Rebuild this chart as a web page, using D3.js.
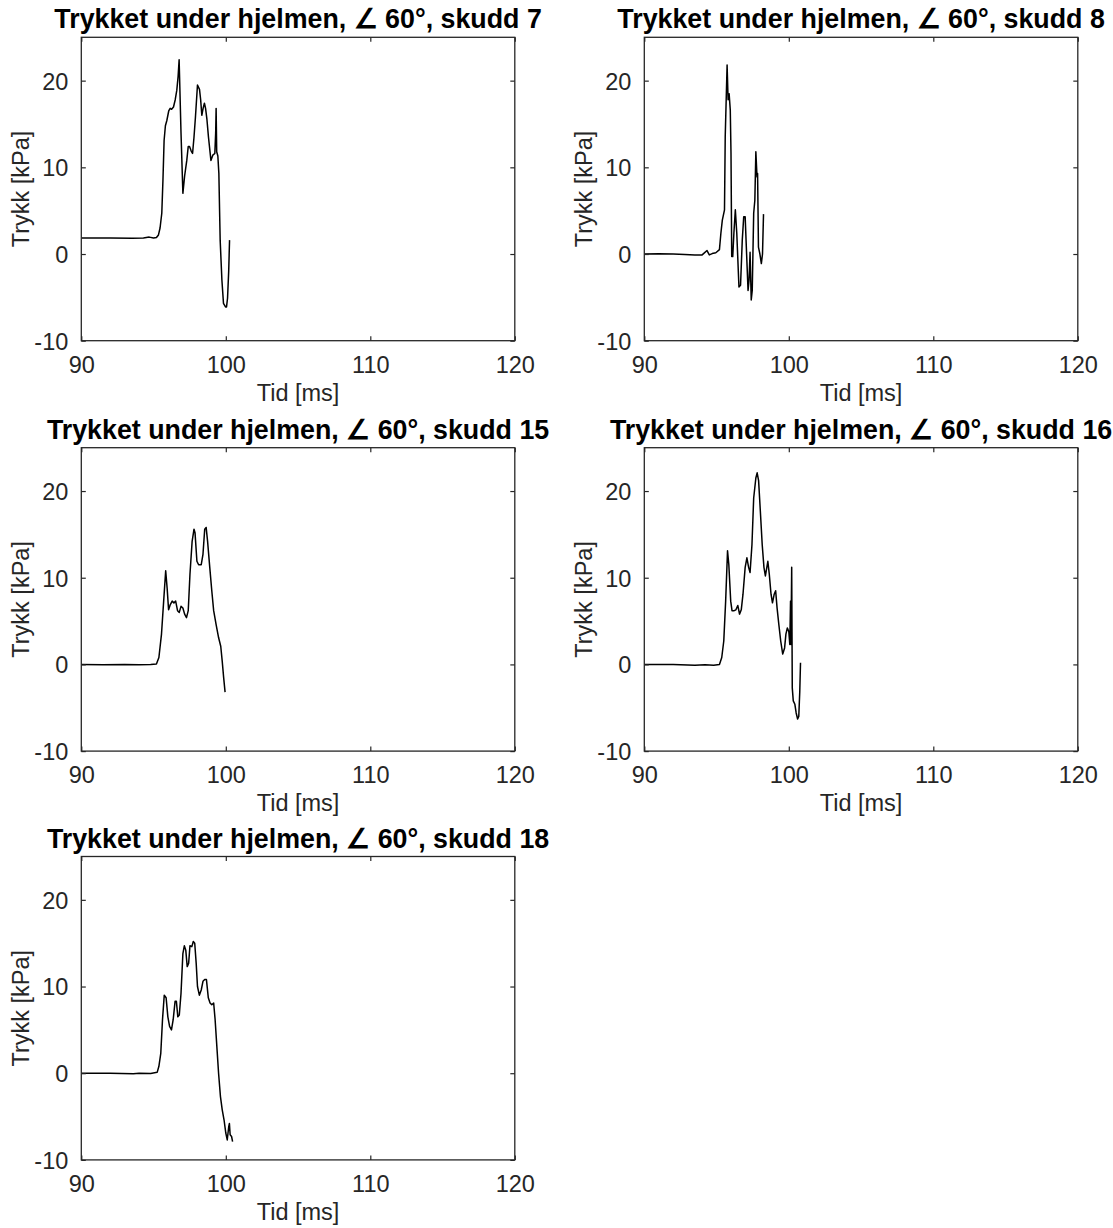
<!DOCTYPE html>
<html>
<head>
<meta charset="utf-8">
<script src="https://cdn.jsdelivr.net/npm/d3@7"></script>
<style>
  html, body { margin: 0; padding: 0; background: #fff; }
  svg { display: block; }
  text { font-family: "Liberation Sans", Arial, Helvetica, sans-serif; }
</style>
</head>
<body>
<div id="chart"></div>
<script>
// ---- Data ----
const shotNumbers = [7, 8, 15, 16, 18];
const titlePrefix = "Trykket under hjelmen, \u2220 60\u00B0, skudd ";
const xLabel = "Tid [ms]";
const yLabel = "Trykk [kPa]";
const xDomain = [90, 120];
const yDomain = [-10, 25];
const xTicks = [90, 100, 110, 120];
const yTicks = [-10, 0, 10, 20];

// time [ms], pressure [kPa]
const shot7 = [[90,1.85],[92,1.85],[93.5,1.82],[94.3,1.85],[94.7,1.95],[95.0,1.85],[95.2,1.9],[95.34,2.2],[95.45,3.0],[95.57,4.7],[95.65,8.5],[95.73,13.1],[95.82,14.8],[95.92,15.4],[96.05,16.5],[96.15,16.8],[96.25,16.7],[96.38,16.96],[96.5,17.8],[96.61,18.9],[96.7,20.5],[96.77,22.4],[96.9,14],[97.03,7.0],[97.15,9.0],[97.3,10.8],[97.4,12.4],[97.49,12.4],[97.6,11.9],[97.7,11.6],[97.8,13.5],[97.9,15.8],[98.04,19.5],[98.18,19.0],[98.26,17.8],[98.34,16.0],[98.43,16.8],[98.52,17.4],[98.6,16.8],[98.69,15.6],[98.8,13.5],[98.97,10.8],[99.1,11.4],[99.24,11.6],[99.3,14],[99.33,16.8],[99.37,11.8],[99.45,11.3],[99.52,9.3],[99.57,5],[99.61,1.6],[99.73,-3.0],[99.84,-5.7],[99.98,-6.1],[100.05,-6.1],[100.12,-5.1],[100.2,-2],[100.26,1.6]];
const shot8 = [[90,0],[91,0.02],[92,0],[92.8,-0.05],[93.5,-0.1],[94.0,-0.1],[94.1,0.05],[94.34,0.4],[94.5,-0.1],[94.7,0.05],[94.95,0.15],[95.2,0.5],[95.3,2.4],[95.4,3.9],[95.55,5.1],[95.6,13.5],[95.73,21.8],[95.8,17.8],[95.87,18.5],[95.95,16.6],[96.0,11.6],[96.05,-0.3],[96.12,-0.3],[96.2,2.4],[96.3,5.1],[96.4,2.4],[96.55,-3.8],[96.66,-3.6],[96.78,1.6],[96.88,4.3],[96.98,4.3],[97.08,0],[97.18,-4.2],[97.25,-3.0],[97.32,0.2],[97.4,-5.3],[97.47,-4.2],[97.57,4.7],[97.65,6.2],[97.72,11.8],[97.8,8.9],[97.84,9.3],[97.9,0.8],[98.0,0],[98.1,-1.1],[98.18,0],[98.25,4.6]];
const shot15 = [[90,0],[91.5,-0.05],[93,0],[94,-0.05],[94.8,0],[95.2,0.05],[95.37,0.8],[95.55,3.5],[95.7,7.3],[95.84,10.8],[95.94,8.8],[96.04,6.3],[96.16,6.9],[96.29,7.3],[96.41,7.1],[96.53,7.3],[96.66,6.2],[96.78,6.0],[96.9,6.7],[97.03,6.5],[97.15,5.8],[97.28,5.4],[97.4,6.2],[97.52,10.4],[97.67,14.2],[97.8,15.6],[97.87,15.2],[98.0,11.9],[98.12,11.5],[98.3,11.5],[98.42,12.7],[98.54,15.6],[98.64,15.8],[98.74,14.2],[98.89,11.2],[99.03,8.5],[99.16,6.2],[99.33,4.6],[99.5,3.1],[99.65,2.1],[99.75,0.4],[99.85,-1.5],[99.95,-3.2]];
const shot16 = [[90,0],[92,0],[93.5,-0.1],[94.2,-0.05],[94.8,-0.1],[95.2,0],[95.36,0.8],[95.5,2.7],[95.63,7.3],[95.76,13.1],[95.85,11.5],[95.98,7.3],[96.07,6.2],[96.22,6.2],[96.34,6.3],[96.47,6.8],[96.59,5.8],[96.71,6.3],[96.83,8.1],[96.98,11.2],[97.1,12.3],[97.22,11.2],[97.32,10.6],[97.45,13.8],[97.57,19.2],[97.72,21.5],[97.81,22.1],[97.91,21.2],[98.03,17.7],[98.16,13.8],[98.28,11.2],[98.38,10.2],[98.48,11.2],[98.55,11.9],[98.65,10.4],[98.77,8.1],[98.87,7.1],[98.99,8.1],[99.09,8.5],[99.19,6.5],[99.31,4.6],[99.44,2.7],[99.58,1.2],[99.71,1.9],[99.8,3.5],[99.9,4.2],[100.0,3.8],[100.07,2.3],[100.12,7.3],[100.15,2.3],[100.2,11.2],[100.24,-2.7],[100.31,-4.2],[100.42,-4.6],[100.51,-5.6],[100.61,-6.3],[100.69,-6.0],[100.76,-3.1],[100.81,0.2]];
const shot18 = [[90,0],[92,0],[93.6,-0.05],[94,0],[94.8,-0.02],[95.25,0.1],[95.37,0.8],[95.5,2.3],[95.62,6.2],[95.74,9.0],[95.87,8.7],[95.99,6.5],[96.11,5.4],[96.24,5.0],[96.36,6.2],[96.49,8.3],[96.58,8.3],[96.68,6.5],[96.78,6.7],[96.9,9.2],[97.03,13.8],[97.13,14.7],[97.23,14.2],[97.33,12.3],[97.43,12.7],[97.52,14.7],[97.65,14.6],[97.75,15.2],[97.85,15.0],[97.95,12.7],[98.04,10.0],[98.17,9.0],[98.3,9.6],[98.42,10.6],[98.54,10.8],[98.66,10.8],[98.79,8.7],[98.91,8.1],[99.03,7.9],[99.16,8.1],[99.26,6.2],[99.38,3.1],[99.5,0],[99.63,-2.7],[99.75,-4.2],[99.88,-5.4],[100.0,-6.9],[100.1,-7.7],[100.2,-6.2],[100.25,-5.8],[100.3,-7.1],[100.4,-7.3],[100.47,-7.9]];

const shotSeries = [shot7, shot8, shot15, shot16, shot18];

// ---- Layout ----
const W = 1113, H = 1228;
const colLeft = [81.3, 644.3];
const rowTop = [37.3, 447.7, 856.5];
const pw = 433.5, ph = 303.4;
const axisColor = "#262626";
const fmt = d => String(d);   // plain hyphen-minus like the reference

const svg = d3.select("#chart").append("svg")
  .attr("width", W).attr("height", H)
  .attr("viewBox", `0 0 ${W} ${H}`);

shotNumbers.forEach((shot, i) => {
  const col = i % 2, row = Math.floor(i / 2);
  const g = svg.append("g")
    .attr("transform", `translate(${colLeft[col]},${rowTop[row]})`);

  const x = d3.scaleLinear().domain(xDomain).range([0, pw]);
  const y = d3.scaleLinear().domain(yDomain).range([ph, 0]);

  // data line (clipped to the axes)
  const clipId = "clip" + i;
  g.append("clipPath").attr("id", clipId)
    .append("rect").attr("width", pw).attr("height", ph);
  const line = d3.line().x(d => x(d[0])).y(d => y(d[1]));
  g.append("path")
    .datum(shotSeries[i])
    .attr("clip-path", `url(#${clipId})`)
    .attr("fill", "none")
    .attr("stroke", "#000")
    .attr("stroke-width", 1.5)
    .attr("stroke-linejoin", "round")
    .attr("d", line);

  const tickLen = 4.5;
  const bottom = g.append("g").attr("transform", `translate(0,${ph})`)
    .call(d3.axisBottom(x).tickValues(xTicks).tickSize(-tickLen).tickPadding(tickLen + 11).tickFormat(fmt));
  const top = g.append("g")
    .call(d3.axisTop(x).tickValues(xTicks).tickSize(-tickLen).tickFormat(""));
  const left = g.append("g")
    .call(d3.axisLeft(y).tickValues(yTicks).tickSize(-tickLen).tickPadding(tickLen + 8.5).tickFormat(fmt));
  const right = g.append("g").attr("transform", `translate(${pw},0)`)
    .call(d3.axisRight(y).tickValues(yTicks).tickSize(-tickLen).tickFormat(""));

  [bottom, top, left, right].forEach(a => {
    a.select(".domain").remove();
    a.selectAll(".tick line").attr("stroke", axisColor).attr("stroke-width", 1.2);
    a.selectAll(".tick text")
      .attr("fill", axisColor)
      .style("font-size", "23.5px")
      .style("font-family", '"Liberation Sans", Arial, sans-serif');
  });
  left.selectAll(".tick text").attr("dy", "0.36em");
  bottom.selectAll(".tick text").attr("dy", "0.71em");

  // box
  g.append("rect")
    .attr("width", pw).attr("height", ph)
    .attr("fill", "none")
    .attr("stroke", axisColor)
    .attr("stroke-width", 1.3);

  // title
  g.append("text")
    .attr("x", pw / 2).attr("y", -9)
    .attr("text-anchor", "middle")
    .attr("fill", "#000")
    .style("font-size", "26.8px")
    .style("font-weight", "bold")
    .text(titlePrefix + shot);

  // x label
  g.append("text")
    .attr("x", pw / 2).attr("y", ph + 60)
    .attr("text-anchor", "middle")
    .attr("fill", axisColor)
    .style("font-size", "23.5px")
    .text(xLabel);

  // y label
  g.append("text")
    .attr("transform", `translate(${29 - colLeft[0]},${ph / 2}) rotate(-90)`)
    .attr("text-anchor", "middle")
    .attr("fill", axisColor)
    .style("font-size", "23.5px")
    .text(yLabel);
});
</script>
</body>
</html>
